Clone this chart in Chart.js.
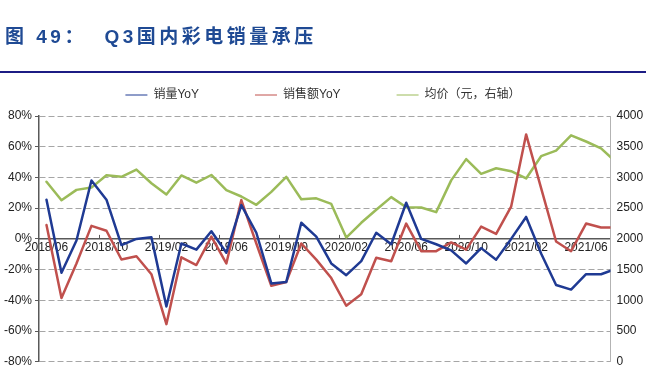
<!DOCTYPE html>
<html lang="zh-CN">
<head>
<meta charset="utf-8">
<title>Q3国内彩电销量承压</title>
<script src="https://cdn.jsdelivr.net/npm/chart.js@4.4.1/dist/chart.umd.min.js"></script>
<style>
  html, body { margin: 0; padding: 0; background: #fff; }
  #wrap { position: relative; width: 646px; height: 375px; overflow: hidden; }
  #chart { position: absolute; left: 0; top: 0; }
  #title {
    position: absolute; left: 5px; top: 27px; margin: 0;
    font: bold 19px/19px "Liberation Sans", "Noto Sans CJK SC", sans-serif;
    letter-spacing: 3.5px; color: #1f4a94; white-space: pre;
  }
  #rule { position: absolute; left: 0; top: 71px; width: 646px; height: 2px; background: #1c1c84; }
</style>
</head>
<body>
<div id="wrap">
  <canvas id="chart" width="646" height="375"></canvas>
  <h1 id="title">图 49：  Q3国内彩电销量承压</h1>
  <div id="rule"></div>
</div>

<script>
const months = [
  "2018/06", "2018/07", "2018/08", "2018/09", "2018/10", "2018/11", "2018/12",
  "2019/01", "2019/02", "2019/03", "2019/04", "2019/05", "2019/06",
  "2019/07", "2019/08", "2019/09", "2019/10", "2019/11", "2019/12",
  "2020/01", "2020/02", "2020/03", "2020/04", "2020/05", "2020/06",
  "2020/07", "2020/08", "2020/09", "2020/10", "2020/11", "2020/12",
  "2021/01", "2021/02", "2021/03", "2021/04", "2021/05", "2021/06",
  "2021/07", "2021/08"
];

const xTickLabels = [
  "2018/06", "2018/10", "2019/02", "2019/06", "2019/10",
  "2020/02", "2020/06", "2020/10", "2021/02", "2021/06"
];

// 销量YoY (%)
const salesYoY = [
  25.5, -22, -1, 38, 25.5, -4, 0, 1, -44, -3, -7, 5, -9,
  22, 4, -29, -28, 10.5, 1.5, -16, -23.6, -14.5, 4, -3.5, 23.5,
  0, -3.5, -7.5, -16, -6, -13.5, 0, 14.3, -9.5, -30, -33, -23,
  -23, -19.5
];

// 销售额YoY (%)
const revenueYoY = [
  9, -38.5, -16, 8.5, 5.3, -13.4, -11.3, -23, -55.5, -12, -17, 1.5, -16,
  25.3, -3, -30.5, -28, -3, -13.5, -25.5, -43.5, -36, -12.3, -14.5, 10,
  -8, -8, -2.3, -7, 8, 3.3, 21, 68, 33, -1.7, -8, 10,
  7.4, 7.4
];

// 均价 (元, 右轴)
const avgPrice = [
  2930, 2628, 2798, 2835, 3037, 3011, 3128, 2905, 2723, 3032, 2915, 3040, 2793,
  2690, 2555, 2765, 3010, 2645, 2660, 2569, 2022, 2262, 2475, 2680, 2516,
  2512, 2436, 2952, 3298, 3059, 3150, 3101, 2984, 3346, 3436, 3686, 3585,
  3473, 3250
];

const FONT = '"Liberation Sans", "Noto Sans CJK SC", sans-serif';
Chart.defaults.font.family = FONT;
Chart.defaults.font.size = 12;

const toPoints = arr => arr.map((v, i) => ({ x: i, y: v }));

/* small upward tick marks between categories, on the zero line */
const categoryTicks = {
  id: "categoryTicks",
  beforeDatasetsDraw(chart) {
    const { ctx, scales: { x, y } } = chart;
    const y0 = y.getPixelForValue(0);
    ctx.save();
    ctx.strokeStyle = "#595959";
    ctx.lineWidth = 1;
    xTickLabels.forEach(l => {
      const i = months.indexOf(l);
      if (i === 0) return;
      const px = Math.round(x.getPixelForValue(i - 0.5)) + 0.5;
      ctx.beginPath();
      ctx.moveTo(px, y0);
      ctx.lineTo(px, y0 - 4);
      ctx.stroke();
    });
    ctx.restore();
  }
};

/* lift the legend row a little, closer to the rule */
const legendNudge = {
  id: "legendNudge",
  afterLayout(chart) {
    chart.legend.top -= 5;
  }
};

new Chart(document.getElementById("chart"), {
  type: "line",
  data: {
    datasets: [
      {
        label: "销量YoY",
        data: toPoints(salesYoY),
        borderColor: "#1f3a93",
        backgroundColor: "#1f3a93",
        yAxisID: "y"
      },
      {
        label: "销售额YoY",
        data: toPoints(revenueYoY),
        borderColor: "#c0504d",
        backgroundColor: "#c0504d",
        yAxisID: "y"
      },
      {
        label: "均价（元，右轴）",
        data: toPoints(avgPrice),
        borderColor: "#9bbb59",
        backgroundColor: "#9bbb59",
        yAxisID: "y1"
      }
    ]
  },
  options: {
    responsive: false,
    animation: false,
    events: [],
    layout: { padding: { top: 38, bottom: 8, left: 0, right: 0 } },
    elements: {
      line: { borderWidth: 2.5, tension: 0, borderJoinStyle: "round", borderCapStyle: "round" },
      point: { radius: 0 }
    },
    plugins: {
      tooltip: { enabled: false },
      legend: {
        position: "top",
        labels: {
          usePointStyle: true,
          pointStyle: "line",
          pointStyleWidth: 22,
          padding: 56,
          color: "#333",
          font: { size: 12 }
        }
      }
    },
    scales: {
      x: {
        type: "linear",
        min: -0.5,
        max: 37.63,
        position: { y: 0 },
        afterBuildTicks: s => {
          s.ticks = xTickLabels.map(l => ({ value: months.indexOf(l) }));
        },
        afterFit: s => {
          s.height = 0;
          s.paddingLeft = 0;
          s.paddingRight = 0;
        },
        grid: { drawOnChartArea: false, drawTicks: false },
        border: { display: true, color: "#595959", width: 1.5 },
        ticks: {
          autoSkip: false,
          maxRotation: 0,
          padding: 2,
          color: "#222",
          callback: v => months[v]
        }
      },
      y: {
        position: "left",
        min: -80,
        max: 80,
        afterFit: s => { s.width = 39; },
        ticks: { stepSize: 20, padding: 3, color: "#222", callback: v => v + "%" },
        grid: { color: "#a6a6a6", lineWidth: 1, tickLength: 4, tickColor: "#595959" },
        border: { display: true, color: "#595959", width: 1.5, dash: [6, 3] }
      },
      y1: {
        position: "right",
        min: 0,
        max: 4000,
        afterFit: s => { s.width = 35.5; },
        ticks: { stepSize: 500, padding: 6, color: "#222", callback: v => String(v) },
        grid: { drawOnChartArea: false, drawTicks: false },
        border: { display: true, color: "#b3b3b3", width: 1 }
      }
    }
  },
  plugins: [categoryTicks, legendNudge]
});
</script>
</body>
</html>
